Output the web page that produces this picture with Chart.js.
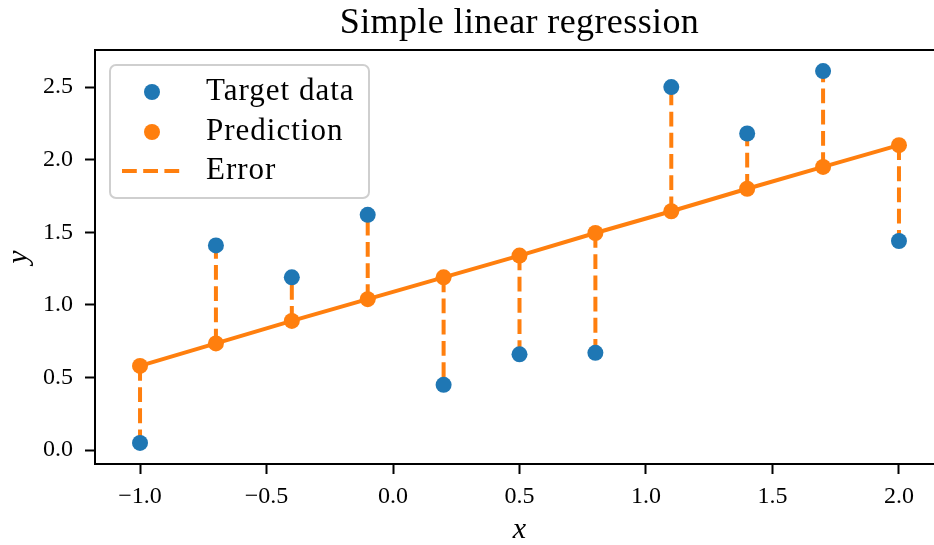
<!DOCTYPE html>
<html>
<head>
<meta charset="utf-8">
<script src="https://cdn.jsdelivr.net/npm/chart.js@4.4.1/dist/chart.umd.min.js"></script>
<style>
  html, body { margin: 0; padding: 0; background: #fff; overflow: hidden; }
  #wrap { width: 934px; height: 545px; overflow: hidden; }
  #box { width: 960px; height: 545px; }
</style>
</head>
<body>
<div id="wrap"><div id="box"><canvas id="regChart"></canvas></div></div>
<script>
// dati
const xValues = [-1.0, -0.7, -0.4, -0.1, 0.2, 0.5, 0.8, 1.1, 1.4, 1.7, 2.0];
const targetData = [0.05, 1.41, 1.19, 1.62, 0.45, 0.66, 0.67, 2.50, 2.18, 2.61, 1.44];
const predictionData = [0.58, 0.735, 0.89, 1.04, 1.19, 1.34, 1.495, 1.645, 1.80, 1.95, 2.10];
const xTicks = [-1.0, -0.5, 0.0, 0.5, 1.0, 1.5, 2.0];
const yTicks = [0.0, 0.5, 1.0, 1.5, 2.0, 2.5];

const BLUE = "#1f77b4";
const ORANGE = "#ff7f0e";
const SERIF = "'Liberation Serif', 'Times New Roman', serif";

const fmt = (v) => v.toFixed(1).replace("-", "\u2212");

// errore: segmenti verticali previsione -> target, separati da null
const errorData = [];
xValues.forEach((x, i) => {
  errorData.push({ x: x, y: predictionData[i] });
  errorData.push({ x: x, y: targetData[i] });
  errorData.push({ x: x, y: null });
});

// titolo, etichette assi, cornice e legenda
const decorPlugin = {
  id: "decor",
  afterDraw(chart) {
    const { ctx, chartArea: a } = chart;
    const cx = (a.left + a.right) / 2;
    ctx.save();
    ctx.strokeStyle = "#000";
    ctx.lineWidth = 2;
    ctx.beginPath();
    ctx.moveTo(a.left, a.top);
    ctx.lineTo(a.right, a.top);
    ctx.lineTo(a.right, a.bottom);
    ctx.stroke();

    ctx.fillStyle = "#000";
    ctx.textAlign = "center";
    ctx.textBaseline = "alphabetic";
    ctx.font = `36px ${SERIF}`;
    ctx.letterSpacing = "0.4px";
    ctx.fillText("Simple linear regression", cx, 33);
    ctx.letterSpacing = "0px";

    ctx.font = `italic 30px ${SERIF}`;
    ctx.fillText("x", cx, 538);
    ctx.save();
    ctx.translate(27, (a.top + a.bottom) / 2);
    ctx.rotate(-Math.PI / 2);
    ctx.fillText("y", 0, 0);
    ctx.restore();

    // legenda
    const lx = 110, ly = 65, lw = 259, lh = 133;
    ctx.beginPath();
    ctx.roundRect(lx, ly, lw, lh, 6);
    ctx.fillStyle = "rgba(255,255,255,0.8)";
    ctx.fill();
    ctx.strokeStyle = "#cfcfcf";
    ctx.lineWidth = 2;
    ctx.stroke();

    const ds = chart.data.datasets;
    const rows = [92, 132, 171];
    ctx.textAlign = "left";
    ctx.font = `31px ${SERIF}`;
    ds.forEach((d, i) => {
      const y = rows[i];
      if (d.pointRadius > 0) {
        ctx.beginPath();
        ctx.arc(152, y, d.pointRadius, 0, Math.PI * 2);
        ctx.fillStyle = d.pointBackgroundColor;
        ctx.fill();
      } else {
        ctx.beginPath();
        ctx.setLineDash(d.borderDash);
        ctx.strokeStyle = d.borderColor;
        ctx.lineWidth = d.borderWidth;
        ctx.moveTo(122, y);
        ctx.lineTo(182, y);
        ctx.stroke();
        ctx.setLineDash([]);
      }
      ctx.fillStyle = "#000";
      ctx.letterSpacing = "1px";
      ctx.fillText(d.label, 206, y + 8);
      ctx.letterSpacing = "0px";
    });
    ctx.restore();
  },
};

const ctx = document.getElementById("regChart").getContext("2d");
Chart.defaults.font.family = SERIF;
Chart.defaults.color = "#000";

new Chart(ctx, {
  type: "scatter",
  data: {
    datasets: [
      {
        label: "Target data",
        data: xValues.map((x, i) => ({ x: x, y: targetData[i] })),
        pointRadius: 8,
        pointBackgroundColor: BLUE,
        pointBorderWidth: 0,
        showLine: false,
      },
      {
        label: "Prediction",
        data: xValues.map((x, i) => ({ x: x, y: predictionData[i] })),
        showLine: true,
        borderColor: ORANGE,
        borderWidth: 4,
        pointRadius: 8,
        pointBackgroundColor: ORANGE,
        pointBorderWidth: 0,
      },
      {
        label: "Error",
        data: errorData,
        showLine: true,
        spanGaps: false,
        borderColor: ORANGE,
        borderWidth: 4,
        borderDash: [14.8, 6.4],
        pointRadius: 0,
      },
    ],
  },
  options: {
    responsive: true,
    maintainAspectRatio: false,
    animation: false,
    layout: { padding: { top: 50, right: 16, left: 0, bottom: 0 } },
    plugins: {
      legend: { display: false },
      title: { display: false },
      tooltip: { enabled: false },
    },
    scales: {
      x: {
        type: "linear",
        min: -1.178,
        max: 2.178,
        afterBuildTicks: (s) => { s.ticks = xTicks.map((v) => ({ value: v })); },
        afterFit: (s) => { s.height = 81; },
        ticks: {
          font: { size: 24 },
          color: "#000",
          padding: 8,
          maxRotation: 0,
          autoSkip: false,
          callback: (v) => fmt(v),
        },
        grid: { drawOnChartArea: false, tickLength: 10, tickWidth: 2, tickColor: "#000" },
        border: { color: "#000", width: 2 },
      },
      y: {
        type: "linear",
        min: -0.095,
        max: 2.755,
        afterBuildTicks: (s) => { s.ticks = yTicks.map((v) => ({ value: v })); },
        afterFit: (s) => { s.width = 95; },
        ticks: {
          font: { size: 24 },
          color: "#000",
          padding: 12,
          autoSkip: false,
          callback: (v) => fmt(v),
        },
        grid: { drawOnChartArea: false, tickLength: 10, tickWidth: 2, tickColor: "#000" },
        border: { color: "#000", width: 2 },
      },
    },
  },
  plugins: [decorPlugin],
});
</script>
</body>
</html>
